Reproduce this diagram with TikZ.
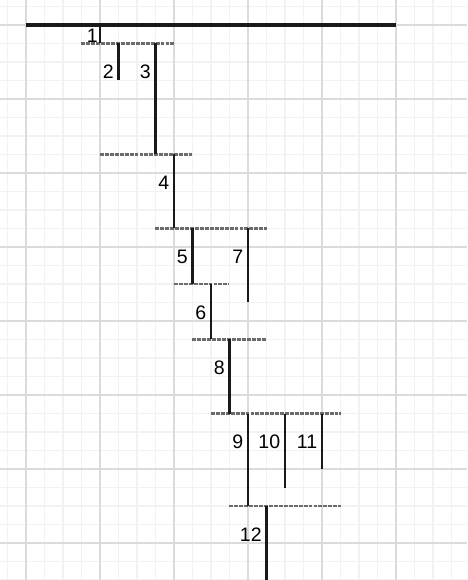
\documentclass[tikz,border=0pt]{standalone}
\usepackage{fontspec}
\setmainfont{Liberation Sans}
\usetikzlibrary{calc}

\begin{document}
\begin{tikzpicture}[x=0.5cm,y=0.5cm,
  minorgrid/.style={draw=black!5,line width=0.8pt},
  majorgrid/.style={draw=black!14,line width=1pt},
  rootline/.style={black!90,line width=2.7pt},
  level/.style={black!58,line width=1.9pt,dash pattern=on 3pt off 0.8pt},
  branch/.style={black!90,line width=2.1pt},
  num/.style={anchor=east,inner sep=3.5pt,font=\fontsize{15}{18}\selectfont}]
\def\xmin{-1.405}
\def\xmax{23.84}
\def\ymin{-30}
\def\ymax{1.351}
\useasboundingbox (\xmin,\ymax) rectangle (\xmax,\ymin);

% grid paper
\draw[minorgrid] (\xmin,\ymin) grid[step=1] (\xmax,\ymax);
\draw[majorgrid] (\xmin,\ymin) grid[step=4] (\xmax,\ymax);

% levels
\foreach \ya/\xa/\xb in {-1/3/8, -7/4/9, -11/7/13, -14/8/11, -17/9/13, -21/10/17, -26/11/17}{
  \draw[level] (\xa,\ya) -- (\xb,\ya);
}

% root and first branch
\coordinate (R0) at (0,0);
\coordinate (R1) at (20,0);
\draw[rootline] (R0) -- (R1);
\coordinate (t1) at (4,0);
\coordinate (b1) at (4,-1);
\draw[branch] (t1) -- (b1);
\node[num,inner sep=1.5pt] (n1) at (4,-0.57) {1};

% branches
\foreach \xx/\ytop/\ybot/\lbl in {5/-1/-3/2, 7/-1/-7/3, 8/-7/-11/4, 9/-11/-14/5,
  10/-14/-17/6, 12/-11/-15/7, 11/-17/-21/8, 12/-21/-26/9, 14/-21/-25/10,
  16/-21/-24/11, 13/-26/-30/12}{
  \coordinate (t\lbl) at (\xx,\ytop);
  \coordinate (b\lbl) at (\xx,\ybot);
  \draw[branch] (t\lbl) -- (b\lbl);
  \node[num] (n\lbl) at (\xx,\ytop-1.55) {\lbl};
}
\end{tikzpicture}
\end{document}
